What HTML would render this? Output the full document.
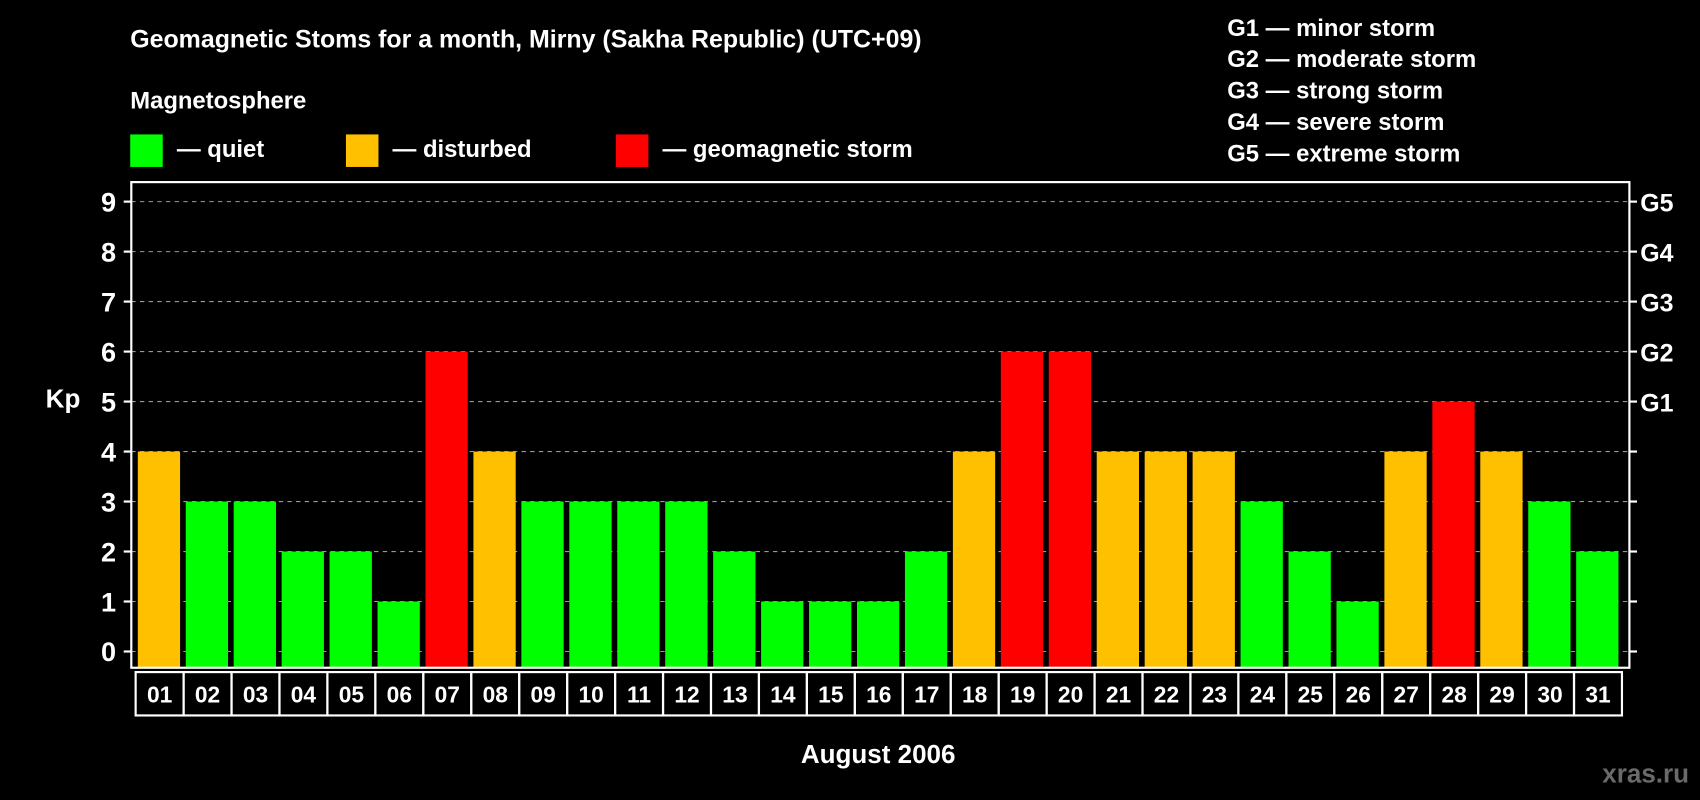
<!DOCTYPE html>
<html><head><meta charset="utf-8"><style>
html,body{margin:0;padding:0;background:#000;}
svg{display:block;}
text{font-family:"Liberation Sans",Arial,sans-serif;font-weight:bold;fill:#fff;}
</style></head><body>
<svg id="chart" width="1700" height="800" viewBox="0 0 1568 738" xmlns="http://www.w3.org/2000/svg">
<rect x="0" y="0" width="1568" height="738" fill="#000"/>
<text x="120" y="44" font-size="23">Geomagnetic Stoms for a month, Mirny (Sakha Republic) (UTC+09)</text>
<text x="120" y="100" font-size="22">Magnetosphere</text>
<rect x="120" y="124" width="30" height="30" fill="#00ff00"/>
<text x="163" y="145" font-size="22">— quiet</text>
<rect x="319" y="124" width="30" height="30" fill="#ffc000"/>
<text x="362" y="145" font-size="22">— disturbed</text>
<rect x="568" y="124" width="30" height="30" fill="#ff0000"/>
<text x="611" y="145" font-size="22">— geomagnetic storm</text>
<g font-size="22">
<text x="1132" y="33">G1 — minor storm</text>
<text x="1132" y="62">G2 — moderate storm</text>
<text x="1132" y="91">G3 — strong storm</text>
<text x="1132" y="120">G4 — severe storm</text>
<text x="1132" y="149">G5 — extreme storm</text>
</g>
<text x="58" y="376" font-size="24" text-anchor="middle">Kp</text>
<text x="810" y="704" font-size="24" text-anchor="middle">August 2006</text>
<text x="1558" y="722" font-size="24" text-anchor="end" fill="#666" style="fill:#6a6a6a">xras.ru</text>
<g id="grid"></g><g id="bars"></g><g id="axes"></g>
</svg>
<script>
const days = ["01","02","03","04","05","06","07","08","09","10","11","12","13","14","15","16","17","18","19","20","21","22","23","24","25","26","27","28","29","30","31"];
const kpValues = [4,3,3,2,2,1,6,4,3,3,3,3,2,1,1,1,2,4,6,6,4,4,4,3,2,1,4,5,4,3,2];
const yTicks = [0,1,2,3,4,5,6,7,8,9];
const gLabels = ["G1","G2","G3","G4","G5"];
const gLevels = [5,6,7,8,9];
const NS="http://www.w3.org/2000/svg";
const L=121,R=1503,T=168,B=616,x0=125,dw=44.23;
function y(v){return 601-v*(601-186)/9;}
function x(i){return x0+i*dw;}
function mk(tag,attrs,parent,txt){const e=document.createElementNS(NS,tag);for(const k in attrs)e.setAttribute(k,attrs[k]);if(txt!==undefined)e.textContent=txt;document.getElementById(parent).appendChild(e);return e;}
yTicks.forEach(v=>{
  const g=mk('line',{x1:L,x2:R,y1:y(v),y2:y(v),stroke:'#999','stroke-dasharray':'4,4','stroke-width':1},'grid');
  
  
  const t=mk('line',{x1:L-7,x2:L,y1:y(v),y2:y(v),stroke:'#fff','stroke-width':2},'axes');
  
  
  const t2=mk('line',{x1:R,x2:R+7,y1:y(v),y2:y(v),stroke:'#fff','stroke-width':2},'axes');
  
  
  const l=mk('text',{x:L-14,y:y(v)+9,'font-size':25,'text-anchor':'end'},'axes',String(v));
  
  
});
gLevels.forEach((v,i)=>{
  const l=mk('text',{x:R+10,y:y(v)+9,'font-size':23},'axes',gLabels[i]);
  
  
});
kpValues.forEach((v,i)=>{
  const c=v>=5?'#ff0000':(v>=4?'#ffc000':'#00ff00');
  const b=mk('rect',{x:x(i)+2,y:y(v),width:39,height:B-y(v),fill:c},'bars');
  
  
  const bx=mk('rect',{x:x(i),y:620,width:dw,height:40,fill:'none',stroke:'#fff','stroke-width':2},'axes');
  
  
  const t=mk('text',{x:x(i)+dw/2,y:648,'font-size':21,'text-anchor':'middle'},'axes',days[i]);
  
  
});
const fr=mk('rect',{x:L,y:T,width:R-L,height:B-T,fill:'none',stroke:'#fff','stroke-width':2},'axes');


</script>
</body></html>
